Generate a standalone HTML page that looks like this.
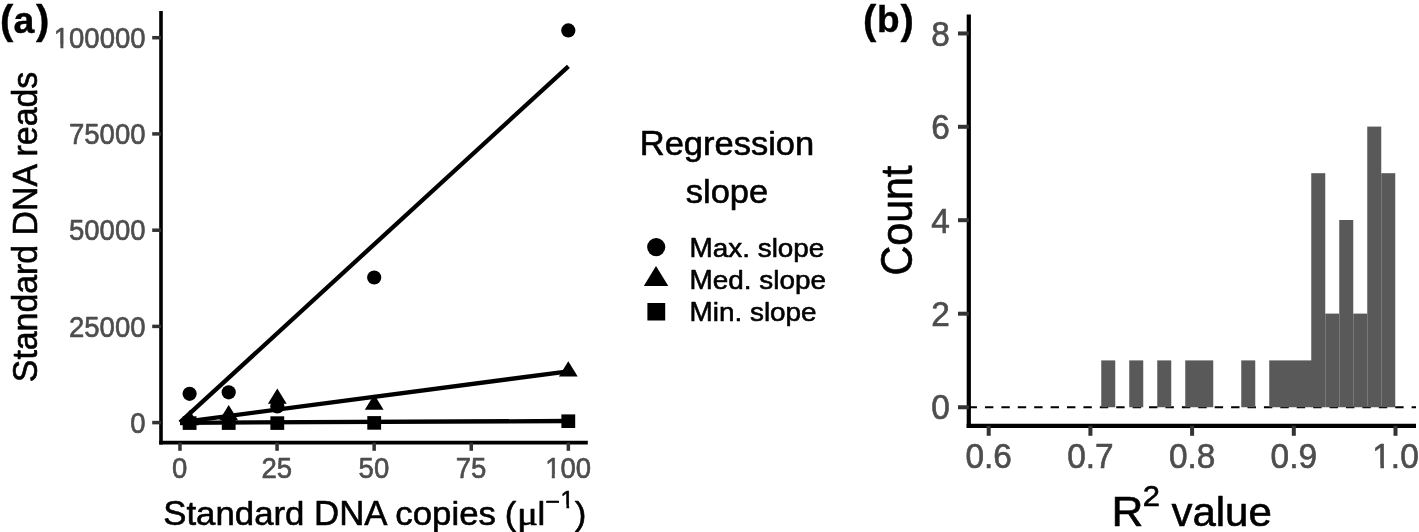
<!DOCTYPE html>
<html>
<head>
<meta charset="utf-8">
<title>Figure</title>
<style>
html,body{margin:0;padding:0;background:#fff;}
body{width:1419px;height:532px;overflow:hidden;font-family:"Liberation Sans",sans-serif;}
svg{display:block;will-change:transform;filter:grayscale(1);}
text{font-family:"Liberation Sans",sans-serif;stroke:#000;stroke-width:0.6px;stroke-linejoin:round;}
.tk text{fill:#4d4d4d;stroke:#4d4d4d;stroke-width:0.6px;}
.lab{stroke-width:0.4px;}
.ser{font-family:"Liberation Serif",serif;}
</style>
</head>
<body>
<svg width="1419" height="532" viewBox="0 0 1419 532">
<rect x="0" y="0" width="1419" height="532" fill="#ffffff"/>

<!-- ================= PANEL A ================= -->
<g id="panelA">
  <text class="lab" font-weight="bold" fill="#000"><tspan x="0.1" y="33.5" font-size="40">(</tspan><tspan x="13.5" y="33" font-size="37.5">a</tspan><tspan x="35.9" y="33.5" font-size="40">)</tspan></text>

  <!-- axis lines -->
  <line x1="161" y1="11" x2="161" y2="444.4" stroke="#000" stroke-width="3.6"/>
  <line x1="159.2" y1="442.6" x2="587.8" y2="442.6" stroke="#000" stroke-width="3.6"/>

  <!-- y ticks -->
  <g stroke="#333333" stroke-width="3.5">
    <line x1="152.2" y1="37.7" x2="161" y2="37.7"/>
    <line x1="152.2" y1="133.9" x2="161" y2="133.9"/>
    <line x1="152.2" y1="230.2" x2="161" y2="230.2"/>
    <line x1="152.2" y1="326.4" x2="161" y2="326.4"/>
    <line x1="152.2" y1="422.6" x2="161" y2="422.6"/>
  </g>
  <!-- x ticks -->
  <g stroke="#333333" stroke-width="3.5">
    <line x1="179.95" y1="442.6" x2="179.95" y2="450.8"/>
    <line x1="277.05" y1="442.6" x2="277.05" y2="450.8"/>
    <line x1="374.15" y1="442.6" x2="374.15" y2="450.8"/>
    <line x1="471.25" y1="442.6" x2="471.25" y2="450.8"/>
    <line x1="568.35" y1="442.6" x2="568.35" y2="450.8"/>
  </g>

  <!-- y tick labels -->
  <g class="tk" font-size="27.5" text-anchor="end">
    <text transform="translate(145.5,47.8) scale(1,1.05)">100000</text>
    <text transform="translate(145.5,144.0) scale(1,1.05)">75000</text>
    <text transform="translate(145.5,240.3) scale(1,1.05)">50000</text>
    <text transform="translate(145.5,336.5) scale(1,1.05)">25000</text>
    <text transform="translate(145.5,432.7) scale(1,1.05)">0</text>
  </g>
  <!-- x tick labels -->
  <g class="tk" font-size="27.5" text-anchor="middle">
    <text transform="translate(179.7,477.7) scale(1,1.05)">0</text>
    <text transform="translate(276.8,477.7) scale(1,1.05)">25</text>
    <text transform="translate(373.9,477.7) scale(1,1.05)">50</text>
    <text transform="translate(471,477.7) scale(1,1.05)">75</text>
    <text transform="translate(568.1,477.7) scale(1,1.05)">100</text>
  </g>

  <!-- axis titles -->
  <text transform="translate(36.9,382.2) rotate(-90) scale(1,1.03)" font-size="33.85" fill="#000">Standard DNA reads</text>
  <text x="163.20" y="524.9" font-size="34.8" fill="#000">S</text>
  <text transform="translate(186.41,524.9) scale(1,0.95)" font-size="34.8" fill="#000">tandard&#160;</text>
  <text x="314.11" y="524.9" font-size="34.8" fill="#000">DNA&#160;</text>
  <text transform="translate(395.33,524.9) scale(1,0.95)" font-size="34.8" fill="#000">copies</text>
  <text transform="translate(504.8,524.9) scale(1,0.95)" font-size="34.8" fill="#000">(</text>
  <text transform="translate(537.6,524.9) scale(1,0.95)" font-size="34.8" fill="#000">l</text>
  <text transform="translate(574.8,524.9) scale(1,0.95)" font-size="34.8" fill="#000">)</text>
  <text class="ser" transform="translate(516.9,524.9) scale(1.15,1)" font-size="34" fill="#000">μ</text>
  <text font-size="25" fill="#000"><tspan x="545.4" y="510.3">−</tspan><tspan x="560.6" y="507.5" font-size="24.3">1</tspan></text>

  <!-- regression lines -->
  <g stroke="#000" stroke-width="4.3" fill="none">
    <line x1="180" y1="422.4" x2="568.4" y2="66.3"/>
    <line x1="180" y1="422.4" x2="568.4" y2="371.3"/>
    <line x1="180" y1="422.8" x2="568.4" y2="421"/>
  </g>

  <!-- points: circles -->
  <g fill="#000">
    <circle cx="189.6" cy="393.8" r="7.1"/>
    <circle cx="228.7" cy="392.3" r="7.1"/>
    <circle cx="277.3" cy="406.5" r="7.1"/>
    <circle cx="374.2" cy="277.5" r="7.1"/>
    <circle cx="568.3" cy="30.4" r="7.1"/>
  </g>
  <!-- triangles -->
  <g fill="#000">
    <polygon points="189.6,410 199,425.2 180.2,425.2"/>
    <polygon points="228.7,405 238.1,420.2 219.3,420.2"/>
    <polygon points="277.3,388.6 286.7,403.8 267.9,403.8"/>
    <polygon points="374.2,394.6 383.6,409.8 364.8,409.8"/>
    <polygon points="568.3,361.2 577.7,376.4 558.9,376.4"/>
  </g>
  <!-- squares -->
  <g fill="#000">
    <rect x="182.7" y="416.3" width="13.8" height="13.6"/>
    <rect x="221.8" y="416.3" width="13.8" height="13.6"/>
    <rect x="270.4" y="416.3" width="13.8" height="13.6"/>
    <rect x="367.3" y="416.1" width="13.8" height="13.6"/>
    <rect x="561.4" y="414.4" width="13.8" height="13.6"/>
  </g>
</g>

<!-- ================= LEGEND ================= -->
<g id="legend">
  <text x="639.75" y="155.4" font-size="34.5" fill="#000">R</text>
  <text transform="translate(664.66,155.4) scale(1,0.95)" font-size="34.5" fill="#000">egression</text>
  <text transform="translate(685.76,202.9) scale(1,0.95)" font-size="34.5" fill="#000">slope</text>
  <circle cx="656.2" cy="247.1" r="9.1" fill="#000"/>
  <polygon points="656,266 668.3,286 643.8,286" fill="#000"/>
  <rect x="647.4" y="303" width="17.8" height="17.5" fill="#000"/>
  <g font-size="27.9" fill="#000">
    <text x="689.50" y="256.7" font-size="27.9" fill="#000">M</text>
    <text transform="translate(712.74,256.7) scale(1,0.95)" font-size="27.9" fill="#000">ax. slope</text>
    <text x="689.50" y="289" font-size="27.9" fill="#000">M</text>
    <text transform="translate(712.74,289) scale(1,0.95)" font-size="27.9" fill="#000">ed. slope</text>
    <text x="689.50" y="321" font-size="27.9" fill="#000">M</text>
    <text transform="translate(712.74,321) scale(1,0.95)" font-size="27.9" fill="#000">in. slope</text>
  </g>
</g>

<!-- ================= PANEL B ================= -->
<g id="panelB">
  <text class="lab" font-weight="bold" fill="#000"><tspan x="863.1" y="34.4" font-size="40">(</tspan><tspan x="877" y="32.2" font-size="37">b</tspan><tspan x="900.5" y="34.4" font-size="40">)</tspan></text>

  <!-- dashed zero line -->
  <line x1="968.55" y1="407.25" x2="1416" y2="407.25" stroke="#000" stroke-width="2.2" stroke-dasharray="8.4 8.01"/>

  <!-- bars -->
  <g fill="#595959">
    <rect x="1101.25" y="360.4" width="14" height="46.85"/>
    <rect x="1129.25" y="360.4" width="14" height="46.85"/>
    <rect x="1157.25" y="360.4" width="14" height="46.85"/>
    <rect x="1185.25" y="360.4" width="28" height="46.85"/>
    <rect x="1241.25" y="360.4" width="14" height="46.85"/>
    <rect x="1269.25" y="360.4" width="42.75" height="46.85"/>
    <rect x="1311.25" y="173.2" width="14" height="234.05"/>
    <rect x="1325.25" y="313.6" width="14" height="93.65"/>
    <rect x="1339.25" y="220.0" width="14" height="187.25"/>
    <rect x="1353.25" y="313.6" width="14" height="93.65"/>
    <rect x="1367.25" y="126.6" width="14" height="280.65"/>
    <rect x="1381.25" y="173.2" width="14" height="234.05"/>
  </g>

  <!-- axis lines -->
  <line x1="968.8" y1="14.6" x2="968.8" y2="427.9" stroke="#000" stroke-width="4.2"/>
  <line x1="966.7" y1="425.8" x2="1416" y2="425.8" stroke="#000" stroke-width="4.2"/>

  <!-- y ticks -->
  <g stroke="#333333" stroke-width="4">
    <line x1="958" y1="33.45" x2="968.8" y2="33.45"/>
    <line x1="958" y1="126.8" x2="968.8" y2="126.8"/>
    <line x1="958" y1="220.2" x2="968.8" y2="220.2"/>
    <line x1="958" y1="313.7" x2="968.8" y2="313.7"/>
    <line x1="958" y1="407.25" x2="968.8" y2="407.25"/>
  </g>
  <!-- x ticks -->
  <g stroke="#333333" stroke-width="4">
    <line x1="988.7" y1="425.8" x2="988.7" y2="435.8"/>
    <line x1="1090.4" y1="425.8" x2="1090.4" y2="435.8"/>
    <line x1="1192.1" y1="425.8" x2="1192.1" y2="435.8"/>
    <line x1="1293.8" y1="425.8" x2="1293.8" y2="435.8"/>
    <line x1="1395.5" y1="425.8" x2="1395.5" y2="435.8"/>
  </g>

  <!-- y tick labels -->
  <g class="tk" font-size="33.4" text-anchor="end">
    <text transform="translate(949.8,45.6) scale(1,1.05)">8</text>
    <text transform="translate(949.8,139.0) scale(1,1.05)">6</text>
    <text transform="translate(949.8,232.5) scale(1,1.05)">4</text>
    <text transform="translate(949.8,325.9) scale(1,1.05)">2</text>
    <text transform="translate(949.8,419.4) scale(1,1.05)">0</text>
  </g>
  <!-- x tick labels -->
  <g class="tk" font-size="33.4" text-anchor="middle">
    <text transform="translate(988.7,468.3) scale(1,1.05)">0.6</text>
    <text transform="translate(1090.4,468.3) scale(1,1.05)">0.7</text>
    <text transform="translate(1192.1,468.3) scale(1,1.05)">0.8</text>
    <text transform="translate(1293.8,468.3) scale(1,1.05)">0.9</text>
    <text transform="translate(1395.5,468.3) scale(1,1.05)">1.0</text>
  </g>

  <!-- axis titles -->
  <text transform="translate(912.2,275.5) rotate(-90) scale(1,1.08)" font-size="41.2" fill="#000">Count</text>
  <text transform="translate(1111.6,526) scale(1.05,1)" font-size="42" fill="#000">R</text>
  <text transform="translate(1142.8,506) scale(1.06,1)" font-size="29.2" fill="#000">2</text>
  <text transform="translate(1171.4,526) scale(1,0.95)" font-size="42" fill="#000">value</text>
</g>

<!-- hide foot serif of digit 1 (target font has plain 1) -->
<g fill="#ffffff">
  <rect x="54.58" y="44.64" width="5.79" height="4.56"/>
  <rect x="63.40" y="44.64" width="5.34" height="4.56"/>
  <rect x="545.99" y="474.54" width="5.79" height="4.56"/>
  <rect x="554.81" y="474.54" width="5.34" height="4.56"/>
  <rect x="561.33" y="504.68" width="5.08" height="4.22"/>
  <rect x="569.16" y="504.68" width="4.69" height="4.22"/>
  <rect x="1373.29" y="464.68" width="7.10" height="5.02"/>
  <rect x="1383.94" y="464.68" width="6.55" height="5.02"/>
</g>
</svg>
</body>
</html>
